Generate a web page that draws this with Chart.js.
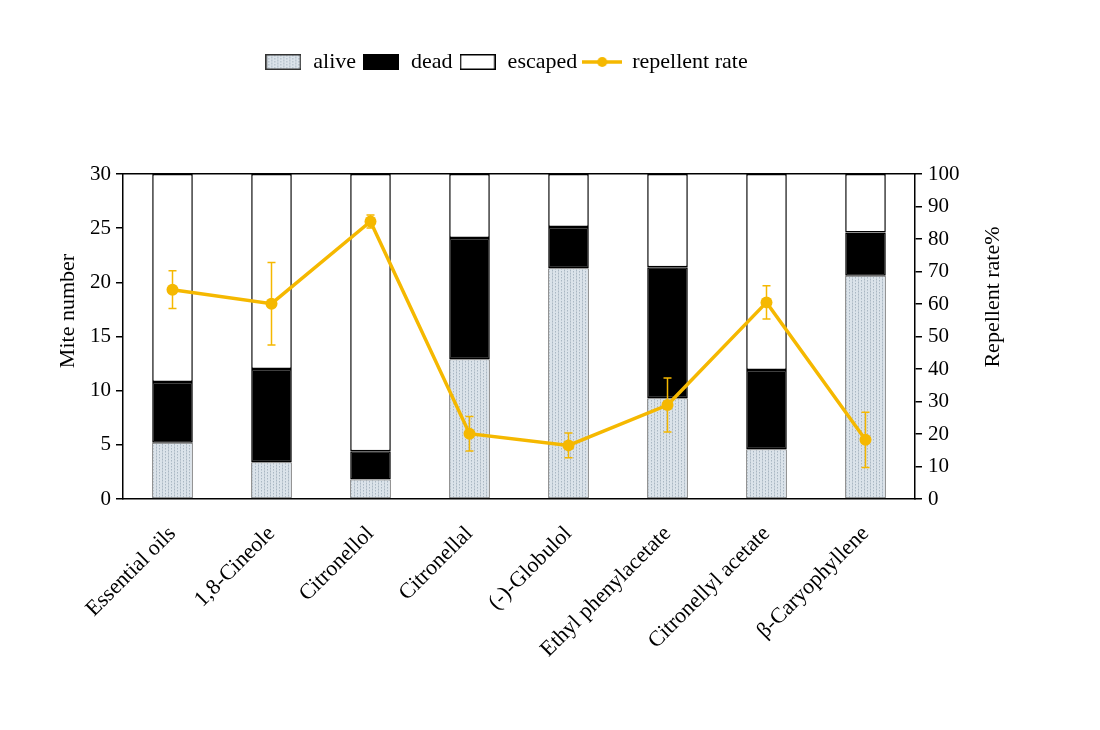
<!DOCTYPE html>
<html lang="en">
<head>
<meta charset="UTF-8">
<title>Mite number and repellent rate</title>
<style>
  body { margin: 0; background: #fff; }
  #wrap { width: 1100px; height: 730px; }
</style>
</head>
<body>
<div id="wrap"><canvas id="chart" width="1100" height="730"></canvas></div>
<script src="https://cdn.jsdelivr.net/npm/chart.js"></script>
<script>
const categories = ['Essential oils', '1,8-Cineole', 'Citronellol', 'Citronellal', '(-)-Globulol',
                    'Ethyl phenylacetate', 'Citronellyl acetate', 'β-Caryophyllene'];
const alive   = [5.2, 3.4, 1.8, 12.9, 21.3, 9.3, 4.6, 20.6];
const dead    = [5.6, 8.6, 2.6, 11.2, 3.8, 12.1, 7.3, 4.0];
const escaped = [19.2, 18.0, 25.6, 5.9, 4.9, 8.6, 18.1, 5.4];
const repellentRate = [64.4, 60.1, 85.4, 20.1, 16.5, 28.9, 60.5, 18.2];
const repellentErr  = [5.8, 12.7, 2.0, 5.3, 3.8, 8.3, 5.1, 8.5];
const miteTicks = [0, 5, 10, 15, 20, 25, 30];
const rateTicks = [0, 10, 20, 30, 40, 50, 60, 70, 80, 90, 100];
const leftTitle = 'Mite number';
const rightTitle = 'Repellent rate%';

const SERIF = "'Liberation Serif', 'Times New Roman', serif";
const GOLD = '#f5b800';

// dotted light blue fill for the "alive" segments
function makeAlivePattern() {
  const c = document.createElement('canvas');
  c.width = 6; c.height = 3;
  const g = c.getContext('2d');
  g.fillStyle = '#dbe3ea';
  g.fillRect(0, 0, 6, 3);
  g.fillStyle = '#a9b7c3';
  g.fillRect(0, 0, 1, 1);
  g.fillRect(3, 1, 1, 1);
  g.fillStyle = '#c2ccd5';
  g.fillRect(0, 1, 1, 2);
  g.fillRect(3, 2, 1, 1);
  return g.createPattern(c, 'repeat');
}
const alivePattern = makeAlivePattern();

function boxIcon(fill, stroke) {
  const c = document.createElement('canvas');
  c.width = 36; c.height = 16;
  const g = c.getContext('2d');
  g.fillStyle = fill;
  g.fillRect(0, 0, 36, 16);
  g.strokeStyle = stroke;
  g.lineWidth = 1.5;
  g.strokeRect(0.75, 0.75, 34.5, 14.5);
  return c;
}
function lineIcon() {
  const c = document.createElement('canvas');
  c.width = 40; c.height = 12;
  const g = c.getContext('2d');
  g.strokeStyle = GOLD;
  g.lineWidth = 3.5;
  g.beginPath(); g.moveTo(0, 6); g.lineTo(40, 6); g.stroke();
  g.fillStyle = GOLD;
  g.beginPath(); g.arc(20, 6, 5, 0, Math.PI * 2); g.fill();
  return c;
}
const legendIcons = [boxIcon(alivePattern, '#333'), boxIcon('#000', '#000'), boxIcon('#fff', '#000'), lineIcon()];

// make room between legend and plot
const legendSpacer = {
  id: 'legendSpacer',
  beforeInit(chart) {
    const fit = chart.legend.fit;
    chart.legend.fit = function () { fit.call(this); this.height = 129; };
  }
};

const errorBars = {
  id: 'errorBars',
  afterDatasetsDraw(chart) {
    const meta = chart.getDatasetMeta(3);
    const yR = chart.scales.yR;
    const ctx = chart.ctx;
    ctx.save();
    ctx.strokeStyle = GOLD;
    ctx.lineWidth = 1.5;
    meta.data.forEach((pt, i) => {
      const top = yR.getPixelForValue(repellentRate[i] + repellentErr[i]);
      const bot = yR.getPixelForValue(repellentRate[i] - repellentErr[i]);
      ctx.beginPath();
      ctx.moveTo(pt.x, top); ctx.lineTo(pt.x, bot);
      ctx.moveTo(pt.x - 4, top); ctx.lineTo(pt.x + 4, top);
      ctx.moveTo(pt.x - 4, bot); ctx.lineTo(pt.x + 4, bot);
      ctx.stroke();
    });
    ctx.restore();
  }
};

const axisTitles = {
  id: 'axisTitles',
  afterDraw(chart) {
    const ctx = chart.ctx;
    const area = chart.chartArea;
    ctx.save();
    ctx.fillStyle = '#000';
    ctx.font = '22px ' + SERIF;
    ctx.textAlign = 'center';
    ctx.textBaseline = 'middle';
    ctx.translate(68, area.top + 137);
    ctx.rotate(-Math.PI / 2);
    ctx.fillText(leftTitle, 0, 0);
    ctx.restore();
    ctx.save();
    ctx.fillStyle = '#000';
    ctx.font = '22px ' + SERIF;
    ctx.textAlign = 'center';
    ctx.textBaseline = 'middle';
    ctx.translate(area.right + 78, area.top + 123);
    ctx.rotate(-Math.PI / 2);
    ctx.fillText(rightTitle, 0, 0);
    ctx.restore();
  }
};

Chart.defaults.font.family = SERIF;
Chart.defaults.font.size = 21;
Chart.defaults.color = '#000';

const barCommon = {
  type: 'bar',
  yAxisID: 'y',
  borderColor: '#000',
  borderWidth: 1.5,
  borderSkipped: false,
  categoryPercentage: 0.82,
  barPercentage: 0.5,
  order: 1
};

new Chart(document.getElementById('chart'), {
  data: {
    labels: categories,
    datasets: [
      { ...barCommon, label: 'alive', data: alive, backgroundColor: alivePattern, borderColor: '#555', borderWidth: 1 },
      { ...barCommon, label: 'dead', data: dead, backgroundColor: '#000' },
      { ...barCommon, label: 'escaped', data: escaped, backgroundColor: '#fff' },
      {
        type: 'line', label: 'repellent rate', data: repellentRate, yAxisID: 'yR',
        borderColor: GOLD, backgroundColor: GOLD, borderWidth: 3.5,
        pointRadius: 6, pointBorderWidth: 0, pointBackgroundColor: GOLD,
        tension: 0, order: 0
      }
    ]
  },
  options: {
    responsive: false,
    animation: false,
    layout: { padding: { left: 0, right: 88, top: 45, bottom: 0 } },
    plugins: {
      tooltip: { enabled: false },
      legend: {
        position: 'top',
        labels: {
          usePointStyle: true,
          pointStyleWidth: 38,
          boxHeight: 16,
          padding: 6,
          color: '#000',
          font: { size: 22, family: SERIF },
          generateLabels: chart => chart.data.datasets.map((ds, i) => ({
            text: ds.label,
            pointStyle: legendIcons[i],
            datasetIndex: i,
            hidden: !chart.isDatasetVisible(i),
            lineWidth: 0,
            strokeStyle: 'transparent',
            fillStyle: 'transparent',
            fontColor: '#000'
          }))
        }
      }
    },
    scales: {
      x: {
        stacked: true,
        grid: { display: true, drawOnChartArea: false, drawTicks: false },
        border: { display: true, color: '#000', width: 1.5 },
        ticks: { minRotation: 45, maxRotation: 45, autoSkip: false, padding: 22, font: { size: 22 } },
        afterFit: s => { s.height = 231; }
      },
      xTop: {
        type: 'category',
        position: 'top',
        grid: { display: true, drawOnChartArea: false, drawTicks: false },
        border: { display: true, color: '#000', width: 1.5 },
        ticks: { display: false },
        afterFit: s => { s.height = 0; }
      },
      y: {
        stacked: true,
        position: 'left',
        min: 0, max: 30,
        afterBuildTicks: s => { s.ticks = miteTicks.map(v => ({ value: v })); },
        grid: { display: true, drawOnChartArea: false, tickLength: 7, color: '#000', lineWidth: 1.5 },
        border: { display: true, color: '#000', width: 1.5 },
        ticks: { padding: 5 },
        afterFit: s => { s.width = 123; }
      },
      yR: {
        position: 'right',
        min: 0, max: 100,
        afterBuildTicks: s => { s.ticks = rateTicks.map(v => ({ value: v })); },
        grid: { display: true, drawOnChartArea: false, tickLength: 7, color: '#000', lineWidth: 1.5 },
        border: { display: true, color: '#000', width: 1.5 },
        ticks: { padding: 6 },
        afterFit: s => { s.width = 97; }
      }
    }
  },
  plugins: [legendSpacer, errorBars, axisTitles]
});
</script>
</body>
</html>
